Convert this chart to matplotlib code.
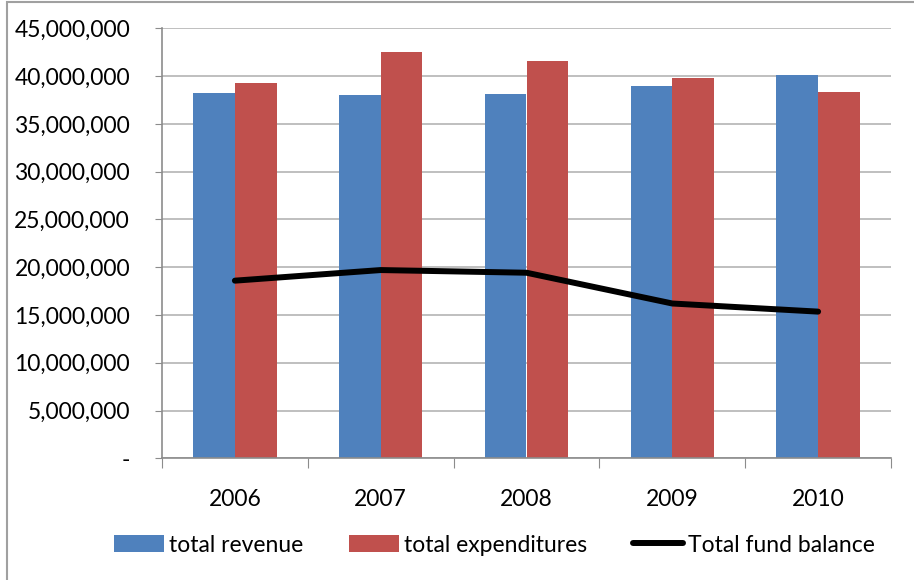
import numpy as np
import matplotlib
matplotlib.use("Agg")
import matplotlib.pyplot as plt
from matplotlib.patches import Rectangle
from matplotlib.ticker import FuncFormatter, MultipleLocator

# data
years = ["2006", "2007", "2008", "2009", "2010"]
revenue = [38230000, 38020000, 38120000, 38960000, 40100000]
expenditures = [39270000, 42520000, 41580000, 39800000, 38330000]
fund_balance = [18590000, 19700000, 19420000, 16200000, 15350000]

plt.rcParams["font.family"] = ["Lato", "DejaVu Sans"]

fig = plt.figure(figsize=(9.14, 5.8), dpi=100)
ax = fig.add_axes([162 / 914, 1 - 458.3 / 580, (891 - 162) / 914, (458.3 - 28.3) / 580])

x = np.arange(len(years))
w = 1 / 3.5
b1 = ax.bar(x - w / 2, revenue, w, color="#4F81BD", label="total revenue", zorder=2)
b2 = ax.bar(x + w / 2, expenditures, w, color="#C0504D", label="total expenditures", zorder=2)
l1, = ax.plot(x, fund_balance, color="black", lw=4.3, solid_capstyle="round",
              solid_joinstyle="round", label="Total fund balance", zorder=3)

ax.set_xlim(-0.5, len(years) - 0.5)
ax.set_ylim(0, 45000000)
ax.yaxis.set_major_locator(MultipleLocator(5000000))
ax.yaxis.set_major_formatter(FuncFormatter(lambda v, p: "-" if v == 0 else f"{v:,.0f}"))
ax.grid(axis="y", color="#b4b4b4", lw=1.2, zorder=0)
ax.set_axisbelow(True)

# category ticks sit on the boundaries, labels in the middle
ax.set_xticks(np.arange(-0.5, len(years)), minor=False)
ax.set_xticklabels([])
ax.set_xticks(x, minor=True)
ax.set_xticklabels(years, minor=True)
ax.tick_params(axis="x", which="major", length=7, color="#8c8c8c", direction="out")
ax.tick_params(axis="x", which="minor", length=0, pad=22, labelsize=16.5)
ax.tick_params(axis="y", length=5, color="#8c8c8c", pad=18, labelsize=16.5)

for s in ["top", "right"]:
    ax.spines[s].set_visible(False)
for s in ["left", "bottom"]:
    ax.spines[s].set_color("#8c8c8c")
    ax.spines[s].set_linewidth(1.2)

fig.legend([b1, b2, l1], ["total revenue", "total expenditures", "Total fund balance"],
           loc="center", bbox_to_anchor=(494 / 914, 1 - 545 / 580), ncol=3,
           frameon=False, fontsize=16.5, handlelength=2.2, handleheight=0.72,
           handletextpad=0.2, columnspacing=2.0, borderaxespad=0)

# chart border
fig.patches.append(Rectangle((7 / 914, -0.2), 1.2, 0.2 + 1 - 2 / 580, fill=False,
                             edgecolor="#a0a0a0", lw=1.5, transform=fig.transFigure))

fig.savefig("out.png", dpi=100)
